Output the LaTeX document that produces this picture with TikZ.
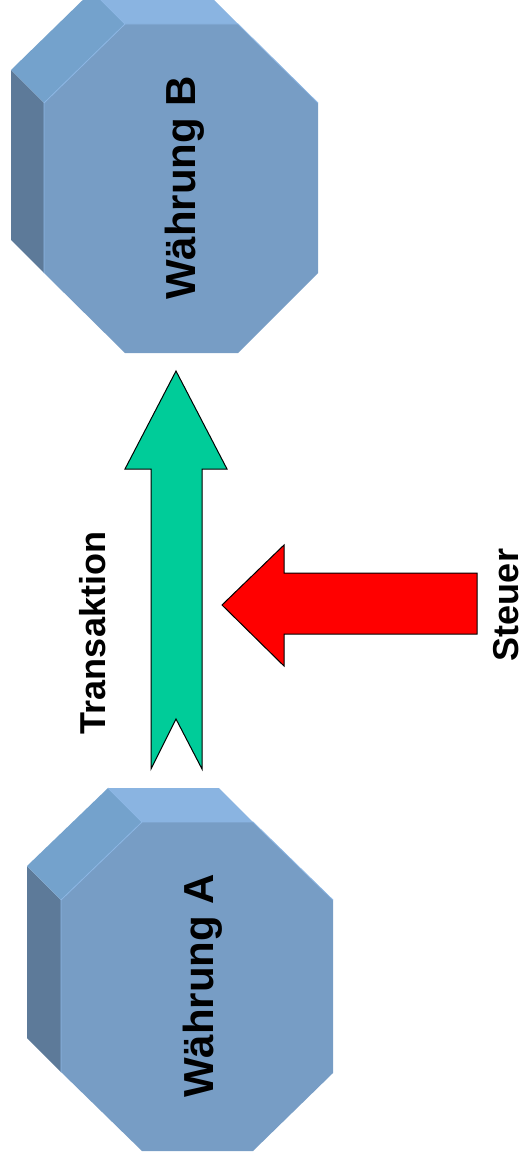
\documentclass[tikz,border=0pt]{standalone}
\usepackage{fontspec}
\setmainfont{Liberation Sans}
\definecolor{frontc}{RGB}{119,157,197}
\definecolor{topc}{RGB}{138,180,225}
\definecolor{diagc}{RGB}{116,162,204}
\definecolor{sidec}{RGB}{93,122,153}
\definecolor{edgec}{RGB}{140,182,228}
\definecolor{greenc}{RGB}{0,204,153}
\definecolor{redc}{RGB}{255,0,0}
\tikzset{
  front/.style={fill=frontc},
  topface/.style={fill=topc},
  diagface/.style={fill=diagc},
  sideface/.style={fill=sidec},
  hiedge/.style={draw=edgec, line width=0.8pt},
  blockarrow/.style={draw=black, line width=1pt, line join=miter},
  lbl/.style={font=\bfseries\fontsize{#1}{#1}\selectfont, inner sep=0pt, rotate=90, anchor=base}
}
\begin{document}
\begin{tikzpicture}[x=1pt,y=-1pt]
\useasboundingbox (0,0) rectangle (525,1166);
\clip (0,0) rectangle (525,1166);
% ---------- Octagon B ----------
\path[sideface] (44,103) -- (44,273) -- (11,240) -- (11,70) -- cycle;
\path[diagface] (125,24) -- (44,103) -- (11,70) -- (92,-9) -- cycle;
\path[topface] (238,24) -- (125,24) -- (92,-9) -- (205,-9) -- cycle;
\path[front] (125,24) -- (238,24) -- (318,103) -- (318,273) -- (238,353) -- (125,353) -- (44,273) -- (44,103) -- cycle;
\draw[hiedge] (44,273) -- (44,103) -- (125,24) -- (238,24) -- (318,103);
\draw[hiedge] (125,24) -- (92,-9);
% ---------- Octagon A ----------
\path[sideface] (61,900) -- (61,1072) -- (27,1038) -- (27,866) -- cycle;
\path[diagface] (142,822) -- (61,900) -- (27,866) -- (108,788) -- cycle;
\path[topface] (253,822) -- (142,822) -- (108,788) -- (219,788) -- cycle;
\path[front] (142,822) -- (253,822) -- (333,900) -- (333,1073) -- (253,1151) -- (142,1151) -- (61,1072) -- (61,900) -- cycle;
\draw[hiedge] (61,1072) -- (61,900) -- (142,822) -- (253,822) -- (333,900);
\draw[hiedge] (142,822) -- (108,788);
% ---------- Arrows ----------
\draw[blockarrow, fill=greenc] (176,371) -- (227,469) -- (202,469) -- (202,769) -- (176,719) -- (151,769) -- (151,469) -- (125,469) -- cycle;
\draw[blockarrow, fill=redc] (222,605) -- (284,545) -- (284,573) -- (477,573) -- (477,634) -- (284,634) -- (284,666) -- cycle;
% ---------- Labels ----------
\node[lbl=42] (wb) at (195,188) {Währung B};
\node[lbl=42] (wa) at (213,986) {Währung A};
\node[lbl=36] (tr) at (105,633) {Transaktion};
\node[lbl=36] (st) at (518,605) {Steuer};
\end{tikzpicture}
\end{document}
